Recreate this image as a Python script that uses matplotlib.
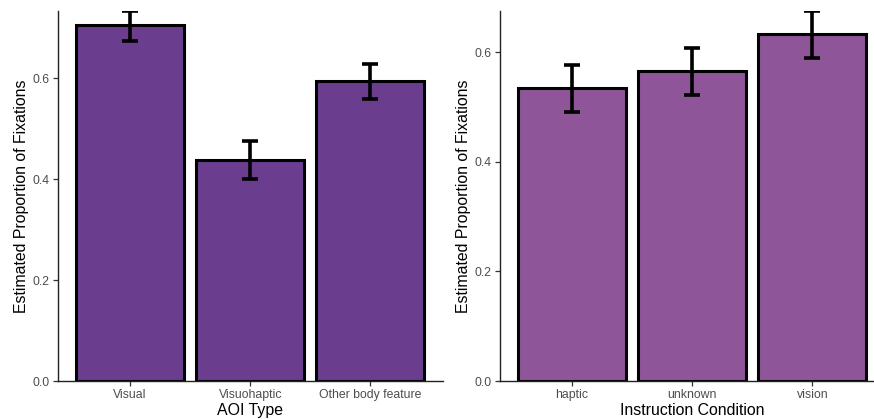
import matplotlib
matplotlib.use('Agg')
import matplotlib.pyplot as plt

# AOI type panel
aoi_labels = ['Visual', 'Visuohaptic', 'Other body feature']
aoi_est = [0.705, 0.438, 0.594]
aoi_lo = [0.673, 0.400, 0.558]
aoi_hi = [0.733, 0.475, 0.628]

# Instruction condition panel
cond_labels = ['haptic', 'unknown', 'vision']
cond_est = [0.534, 0.566, 0.633]
cond_lo = [0.490, 0.521, 0.589]
cond_hi = [0.576, 0.608, 0.675]

plt.rcParams['font.family'] = ['Liberation Sans', 'DejaVu Sans']


def draw_panel(ax, labels, est, lo, hi, color, xlabel, ytop):
    xs = list(range(len(labels)))
    ax.bar(xs, est, width=0.9, color=color, edgecolor='black', linewidth=2.2, zorder=2)
    yerr = [[e - l for e, l in zip(est, lo)], [h - e for e, h in zip(est, hi)]]
    ax.errorbar(xs, est, yerr=yerr, fmt='none', ecolor='black', elinewidth=2.6,
                capsize=6, capthick=2.6, zorder=3)
    ax.set_xlim(-0.6, len(labels) - 0.4)
    ax.set_ylim(0, ytop)
    ax.set_xticks(xs)
    ax.set_xticklabels(labels)
    ax.set_yticks([0.0, 0.2, 0.4, 0.6])
    ax.set_yticklabels(['0.0', '0.2', '0.4', '0.6'])
    ax.tick_params(axis='both', colors='#333333', labelcolor='#4d4d4d',
                   labelsize=8.8, length=3.5, width=0.9, pad=2.5)
    for s in ['top', 'right']:
        ax.spines[s].set_visible(False)
    for s in ['left', 'bottom']:
        ax.spines[s].set_color('#222222')
        ax.spines[s].set_linewidth(1.0)
    ax.set_xlabel(xlabel, fontsize=11.4, labelpad=1)
    ax.set_ylabel('Estimated Proportion of Fixations', fontsize=11.4, labelpad=2.5)


fig = plt.figure(figsize=(8.74, 4.19), dpi=100)
ax1 = fig.add_axes([58 / 874, 1 - 381 / 419, 384.5 / 874, 370 / 419])
ax2 = fig.add_axes([500 / 874, 1 - 381 / 419, 384.5 / 874, 370 / 419])

draw_panel(ax1, aoi_labels, aoi_est, aoi_lo, aoi_hi, '#6a3d8f', 'AOI Type', 0.733)
draw_panel(ax2, cond_labels, cond_est, cond_lo, cond_hi, '#8f5599', 'Instruction Condition', 0.675)

fig.savefig('out.png', dpi=100)
